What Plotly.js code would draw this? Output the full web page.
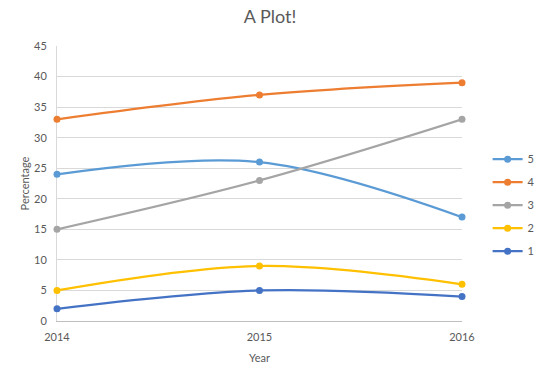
<!DOCTYPE html>
<html>
<head>
<meta charset="utf-8">
<script src="https://cdn.plot.ly/plotly-3.0.1.min.js"></script>
<style>html,body{margin:0;padding:0;background:#fff;}#chart{width:540px;height:371px;}</style>
</head>
<body>
<div id="chart"></div>
<script>
var years = [2014, 2015, 2016];
var seriesNames = ["5", "4", "3", "2", "1"];
var series5 = [24, 26, 17];
var series4 = [33, 37, 39];
var series3 = [15, 23, 33];
var series2 = [5, 9, 6];
var series1 = [2, 5, 4];
var colors = ["#5B9BD5", "#ED7D31", "#A5A5A5", "#FFC000", "#4472C4"];
var yTicks = [0, 5, 10, 15, 20, 25, 30, 35, 40, 45];

var allSeries = [series5, series4, series3, series2, series1];
var traces = allSeries.map(function (vals, i) {
  return {
    x: years,
    y: vals,
    name: seriesNames[i],
    type: "scatter",
    mode: "lines+markers",
    legendgroup: "g" + i,
    line: {color: colors[i], width: 2.25, shape: "spline", smoothing: 1},
    marker: {color: colors[i], size: 7},
    cliponaxis: false
  };
});

var fontFam = "Lato, 'Open Sans', sans-serif";
var layout = {
  width: 540,
  height: 371,
  margin: {l: 57, r: 78, t: 46, b: 50, autoexpand: false},
  paper_bgcolor: "#ffffff",
  plot_bgcolor: "#ffffff",
  font: {family: fontFam, color: "#595959", size: 11},
  title: {text: "A Plot!", font: {family: fontFam, size: 18, color: "#595959"}, x: 0.5, xanchor: "center", y: 0.955, yanchor: "middle"},
  xaxis: {
    range: [2014, 2016],
    tickvals: years,
    ticktext: years.map(String),
    showgrid: false,
    zeroline: false,
    showline: true,
    linecolor: "#BFBFBF",
    linewidth: 1,
    layer: "below traces",
    ticks: "",
    ticklabelstandoff: 6,
    tickfont: {size: 11, color: "#595959"},
    title: {text: "Year", font: {size: 11, color: "#595959"}, standoff: 12}
  },
  yaxis: {
    range: [0, 45],
    tickvals: yTicks,
    showgrid: true,
    gridcolor: "#D9D9D9",
    zeroline: false,
    showline: true,
    linecolor: "#D9D9D9",
    layer: "below traces",
    ticks: "outside",
    ticklen: 7,
    tickcolor: "rgba(0,0,0,0)",
    tickfont: {size: 11, color: "#595959"},
    title: {text: "Percentage", font: {size: 11, color: "#595959"}, standoff: 2}
  },
  showlegend: true,
  legend: {
    xref: "container", yref: "container",
    x: 0.903, xanchor: "left",
    y: 0.447, yanchor: "middle",
    traceorder: "grouped",
    tracegroupgap: 4,
    font: {size: 11, color: "#595959"},
    bgcolor: "rgba(0,0,0,0)",
    itemwidth: 30
  }
};

Plotly.newPlot("chart", traces, layout, {displayModeBar: false, staticPlot: true});
</script>
</body>
</html>
